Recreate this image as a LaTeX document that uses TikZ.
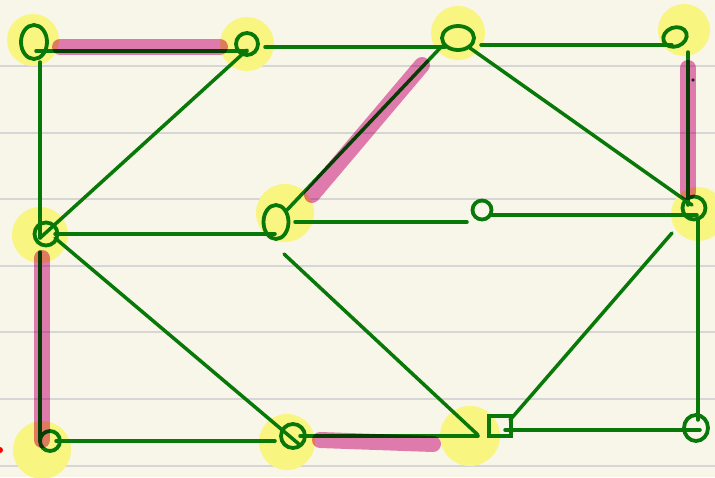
\documentclass[tikz,border=0pt]{standalone}
\usepackage{tikz}
\usetikzlibrary{shapes.geometric, backgrounds, calc}

\definecolor{paper}{RGB}{248,246,232}
\definecolor{ruling}{RGB}{214,214,214}
\definecolor{ink}{RGB}{8,120,8}
\definecolor{marker}{RGB}{230,128,190}
\definecolor{glow}{RGB}{248,245,128}

\begin{document}
\begin{tikzpicture}[
    x=1pt, y=-1pt,
    vtx/.style={ellipse, draw=ink, line width=3.8pt, inner sep=0pt},
    ring/.style={circle, draw=ink, line width=3.8pt, inner sep=0pt},
    boxv/.style={rectangle, draw=ink, line width=3.8pt, inner sep=0pt, minimum width=22pt, minimum height=20pt},
    link/.style={draw=ink, line width=3.5pt, line cap=round},
    hilite/.style={draw=marker, line width=16pt, line cap=round},
    glowspot/.style={fill=glow}
]
    \useasboundingbox (0,0) rectangle (715,477);

    \node[vtx, minimum width=26pt, minimum height=34pt] (A) at (34,42) {};
    \node[ring, minimum size=22pt] (B) at (247,44) {};
    \node[vtx, minimum width=32pt, minimum height=24pt] (C) at (458,38) {};
    \node[vtx, minimum width=24pt, minimum height=19pt, rotate=20] (D) at (675,37) {};
    \node[ring, minimum size=23pt] (E) at (46,234) {};
    \node[vtx, minimum width=25pt, minimum height=34pt] (F) at (276,222) {};
    \node[ring, minimum size=19pt] (G) at (482,210) {};
    \node[ring, minimum size=23pt] (H) at (694,208) {};
    \node[ring, minimum size=20pt] (I) at (50,441) {};
    \node[ring, minimum size=24pt] (J) at (293,436) {};
    \node[boxv] (K) at (500,426) {};
    \node[vtx, minimum width=24pt, minimum height=26pt] (L) at (696,428) {};

    \draw[link] ($(A)+(2,9)$) -- ($(B)+(0,7)$);
    \draw[link] ($(A)+(6,20)$) -- ($(E)+(-6,4)$);
    \draw[link] ($(B)+(0,6)$) -- ($(E)+(-6,4)$);
    \draw[link] ($(B)+(18,3)$) -- ($(C)+(-13,9)$);
    \draw[link] ($(C)+(23,7)$) -- ($(D)+(-3,8)$);
    \draw[link] ($(C)+(-16,8)$) -- ($(F)+(11,-12)$);
    \draw[link] ($(C)+(12,10)$) -- ($(H)+(-2,-3)$);
    \draw[link] ($(D)+(13,15)$) -- ($(H)+(-6,-3)$);
    \draw[link] ($(E)+(9,0)$) -- ($(F)+(-1,12)$);
    \draw[link] ($(F)+(19,0)$) -- ($(G)+(-15,12)$);
    \draw[link] ($(G)+(8,5)$) -- ($(H)+(3,7)$);
    \draw[link] ($(E)+(-6,18)$) -- ($(I)+(-10,-1)$);
    \draw[link] ($(E)+(9,4)$) -- ($(J)+(7,9)$);
    \draw[link] ($(I)+(6,0)$) -- ($(J)+(-18,5)$);
    \draw[link] ($(F)+(8,32)$) -- ($(K)+(-22,9)$);
    \draw[link] ($(J)+(7,0)$) -- ($(K)+(-22,10)$);
    \draw[link] ($(K)+(10,-6)$) -- ($(H)+(-22,25)$);
    \draw[link] ($(H)+(4,12)$) -- ($(L)+(2,-8)$);
    \draw[link] ($(K)+(5,4)$) -- ($(L)+(4,2)$);

    % marker strokes
    \begin{scope}[blend mode=multiply]
        \draw[hilite] ($(A)+(26,5)$) -- ($(B)+(-27,3)$);
        \draw[hilite] ($(F)+(36,-27)$) -- ($(C)+(-36,27)$);
        \draw[hilite] ($(D)+(13,31)$) -- ($(H)+(-6,-16)$);
        \draw[hilite] ($(E)+(-4,24)$) -- ($(I)+(-8,-1)$);
        \draw[hilite] ($(J)+(27,4)$) -- ($(K)+(-67,18)$);
    \end{scope}
    \fill[black!85] (693,80) circle (1.8);
    \fill[red] (0,450) circle (3);

    % Paper
    \begin{scope}[on background layer]
        \fill[paper] (0,0) rectangle (715,477);
        \foreach \y in {66,133,199,266,332,399,466}
            \draw[ruling, line width=1.5pt] (0,\y) -- (715,\y);
        \fill[glowspot] ($(A)+(-1,-2)$) circle (26);
        \fill[glowspot] (B) circle (27);
        \fill[glowspot] ($(C)+(0,-5)$) circle (27);
        \fill[glowspot] ($(D)+(9,-7)$) circle (26);
        \fill[glowspot] ($(E)+(-6,1)$) circle (28);
        \fill[glowspot] ($(F)+(9,-9)$) circle (29);
        \fill[glowspot] ($(H)+(4,6)$) circle (27);
        \fill[glowspot] ($(I)+(-8,9)$) circle (29);
        \fill[glowspot] ($(J)+(-6,6)$) circle (28);
        \fill[glowspot] ($(K)+(-30,10)$) circle (30);
    \end{scope}
\end{tikzpicture}
\end{document}
